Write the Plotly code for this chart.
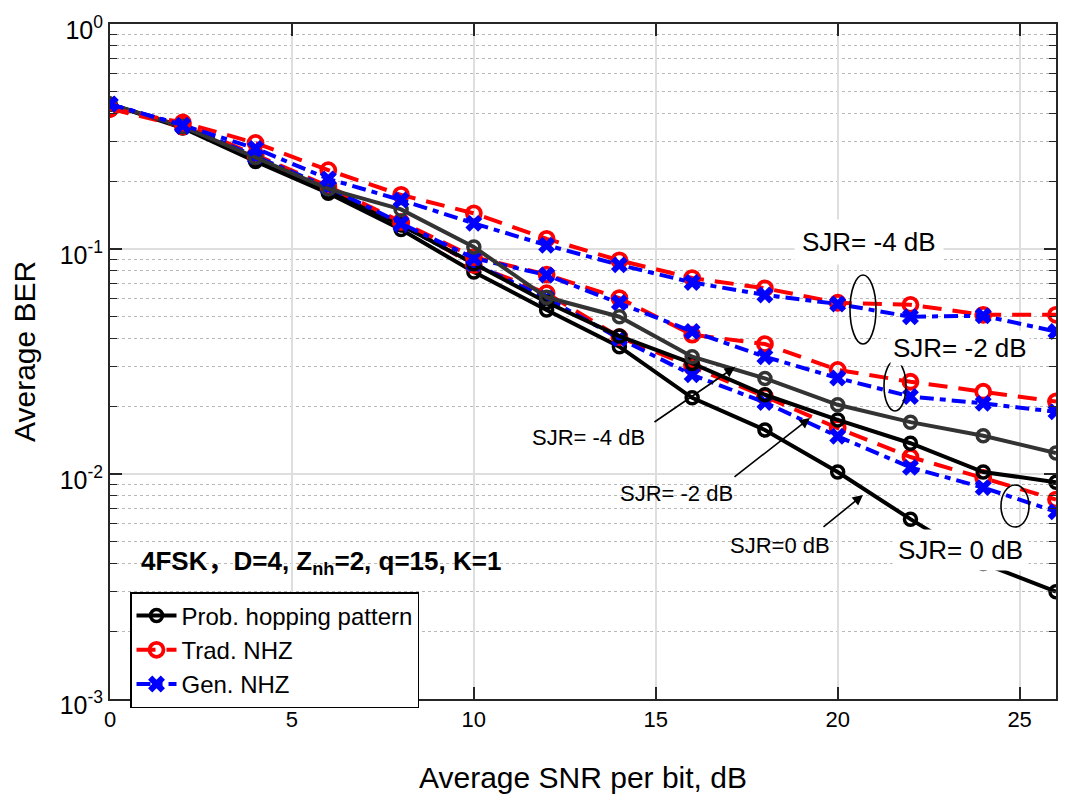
import plotly.graph_objects as go

# ---------------- data ----------------
snr = [0, 2, 4, 6, 8, 10, 12, 14, 16, 18, 20, 22, 24, 26]

prob_sjr0 = [0.44, 0.345, 0.245, 0.177, 0.122, 0.079, 0.0536, 0.0368, 0.0218, 0.0157, 0.0102, 0.0063, 0.0040, 0.0030]
prob_sjr_m2 = [0.44, 0.35, 0.25, 0.18, 0.128, 0.086, 0.058, 0.041, 0.031, 0.0225, 0.0174, 0.0137, 0.0102, 0.0092]
prob_sjr_m4 = [0.44, 0.35, 0.255, 0.185, 0.150, 0.102, 0.061, 0.050, 0.0332, 0.0266, 0.0203, 0.0170, 0.0148, 0.0124]

trad_sjr0 = [0.42, 0.35, 0.26, 0.188, 0.13, 0.085, 0.0636, 0.0406, 0.0299, 0.0221, 0.016, 0.0119, 0.0096, 0.0077]
trad_sjr_m2 = [0.42, 0.36, 0.262, 0.19, 0.132, 0.092, 0.077, 0.0605, 0.0416, 0.0378, 0.029, 0.0257, 0.0232, 0.021]
trad_sjr_m4 = [0.42, 0.365, 0.296, 0.224, 0.174, 0.144, 0.111, 0.089, 0.0743, 0.0669, 0.0577, 0.0565, 0.051, 0.051]

gen_sjr0 = [0.44, 0.35, 0.256, 0.187, 0.128, 0.086, 0.0605, 0.040, 0.0276, 0.0208, 0.0147, 0.0107, 0.0087, 0.0068]
gen_sjr_m2 = [0.44, 0.355, 0.258, 0.188, 0.13, 0.091, 0.0766, 0.0577, 0.043, 0.0332, 0.0267, 0.0221, 0.0206, 0.0189]
gen_sjr_m4 = [0.44, 0.355, 0.28, 0.205, 0.165, 0.13, 0.104, 0.085, 0.071, 0.0625, 0.057, 0.050, 0.0505, 0.043]

legend_names = ["Prob. hopping pattern", "Trad. NHZ", "Gen. NHZ"]
x_tick_vals = [0, 5, 10, 15, 20, 25]
y_tick_vals = [0.001, 0.01, 0.1, 1]
y_tick_text = ["10<sup>-3</sup>", "10<sup>-2</sup>", "10<sup>-1</sup>", "10<sup>0</sup>"]

# ---------------- layout geometry ----------------
OFF = 8                      # default body margin of the html page
W, H = 1073 - OFF, 804 - OFF
ML, MT = 110 - OFF, 24 - OFF
MR = W - (1056 - OFF)
MB = H - (699 - OFF)
PW, PH = W - ML - MR, H - MT - MB
FONT = "Liberation Sans, Arial, sans-serif"
FONT_CJK = "Liberation Sans, Noto Sans CJK SC, sans-serif"


def px(xp, yp):
    """page pixel position -> paper coordinates"""
    return (xp - OFF - ML) / PW, (H - MB - (yp - OFF)) / PH


fig = go.Figure()

groups = [
    (prob_sjr0, trad_sjr0, gen_sjr0, "#000000", True),
    (prob_sjr_m2, trad_sjr_m2, gen_sjr_m2, "#000000", False),
    (prob_sjr_m4, trad_sjr_m4, gen_sjr_m4, "#333333", False),
]

for prob, trad, gen, pcol, show in groups:
    fig.add_trace(go.Scatter(x=snr, y=prob, name=legend_names[0], showlegend=show, legendrank=1,
                             mode="lines+markers", line=dict(width=4, color=pcol),
                             marker=dict(symbol="circle-open", size=12, color=pcol,
                                         line=dict(width=3.5, color=pcol))))
    fig.add_trace(go.Scatter(x=snr, y=trad, name=legend_names[1], showlegend=show, legendrank=2,
                             mode="lines+markers",
                             line=dict(width=4, color="#ff0000", dash="19px,11px"),
                             marker=dict(symbol="circle-open", size=14, color="#ff0000",
                                         line=dict(width=3.8, color="#ff0000"))))
    fig.add_trace(go.Scatter(x=snr, y=gen, name=legend_names[2], showlegend=show, legendrank=3,
                             mode="lines+markers",
                             line=dict(width=4, color="#0000ff", dash="14px,6px,6px,6px"),
                             marker=dict(symbol="x", size=15, color="#0000ff", line=dict(width=0))))

# ---------------- annotations ----------------
annotations = []


def text_ann(text, xp, yp, size, bg=None, xanchor="center", pad=0, angle=0, family=FONT):
    x, y = px(xp, yp)
    d = dict(text=text, x=x, y=y, xref="paper", yref="paper", showarrow=False,
             xanchor=xanchor, yanchor="middle", textangle=angle,
             font=dict(family=family, size=size, color="black"), borderpad=pad)
    if bg:
        d["bgcolor"] = bg
    annotations.append(d)


def arrow_ann(tip, tail):
    x, y = px(*tip)
    annotations.append(dict(text="", x=x, y=y, xref="paper", yref="paper", showarrow=True,
                            ax=tail[0] - tip[0], ay=tail[1] - tip[1], arrowhead=2, arrowsize=1.3,
                            arrowwidth=1.6, arrowcolor="black", standoff=0, startstandoff=0))


# y-axis title (placed as rotated text to sit close to the page edge like the reference)
text_ann("Average BER", 25, 352, 30, angle=-90)

text_ann("SJR= -4 dB", 869, 242, 26, bg="white", pad=7)
text_ann("SJR= -2 dB", 960, 348, 26, bg="white", pad=2)
text_ann("SJR= 0 dB", 960, 550, 26, bg="white", pad=5)

text_ann("SJR= -4 dB", 588, 438, 22)
text_ann("SJR= -2 dB", 676, 493, 22)
text_ann("SJR=0 dB", 780, 545, 22)

arrow_ann((735, 367), (653, 423))
arrow_ann((810, 418), (733, 478))
arrow_ann((863, 495), (822, 528))

text_ann("<b>4FSK，D=4, Z<sub>nh</sub>=2, q=15, K=1</b>", 140, 562, 26, xanchor="left", family=FONT_CJK)

shapes = []
# white background box behind the parameter text
x0, y0 = px(117, 586)
x1, y1 = px(597, 537)
shapes.append(dict(type="rect", xref="paper", yref="paper", x0=x0, y0=y0, x1=x1, y1=y1,
                   fillcolor="white", line=dict(width=0), layer="between"))

# ellipses grouping curves
for (l, t, r, b) in [(850, 275, 876, 344), (884, 361, 906, 411), (1001, 485, 1029, 527)]:
    ex0, ey0 = px(l, b)
    ex1, ey1 = px(r, t)
    shapes.append(dict(type="circle", xref="paper", yref="paper", x0=ex0, y0=ey0, x1=ex1, y1=ey1,
                       line=dict(color="black", width=1.6), layer="above"))

lx, ly = px(130, 592)

fig.update_layout(
    width=W, height=H,
    margin=dict(l=ML, r=MR, t=MT, b=MB, autoexpand=False),
    paper_bgcolor="white", plot_bgcolor="white",
    font=dict(family=FONT, size=22, color="black"),
    showlegend=True,
    legend=dict(x=lx, y=ly, xanchor="left", yanchor="top", bgcolor="white",
                bordercolor="black", borderwidth=1.5, font=dict(family=FONT, size=24),
                tracegroupgap=0, itemwidth=40),
    annotations=annotations,
    shapes=shapes,
    xaxis=dict(range=[0, 26], tickvals=x_tick_vals, ticks="inside", ticklen=12, tickwidth=1.5,
               tickcolor="#262626", showline=True, linecolor="#262626", linewidth=2, mirror="ticks",
               showgrid=True, gridcolor="#dedede", gridwidth=1.5, zeroline=False,
               tickfont=dict(family=FONT, size=22), ticklabeloverflow="allow",
               title=dict(text="Average SNR per bit, dB", font=dict(family=FONT, size=30), standoff=36)),
    yaxis=dict(type="log", range=[-3, 0], tickvals=y_tick_vals, ticktext=y_tick_text,
               ticks="inside", ticklen=12, tickwidth=1.5, tickcolor="#262626",
               showline=True, linecolor="#262626", linewidth=2, mirror="ticks",
               showgrid=True, gridcolor="#dedede", gridwidth=1.5, zeroline=False,
               tickfont=dict(family=FONT, size=25), ticklabeloverflow="allow", ticklabelshift=6,
               minor=dict(dtick="D1", ticks="inside", ticklen=7, tickwidth=1.2, tickcolor="#262626",
                          showgrid=True, gridcolor="#b8b8b8", griddash="dot", gridwidth=1)),
)

fig.write_html("out.html")
